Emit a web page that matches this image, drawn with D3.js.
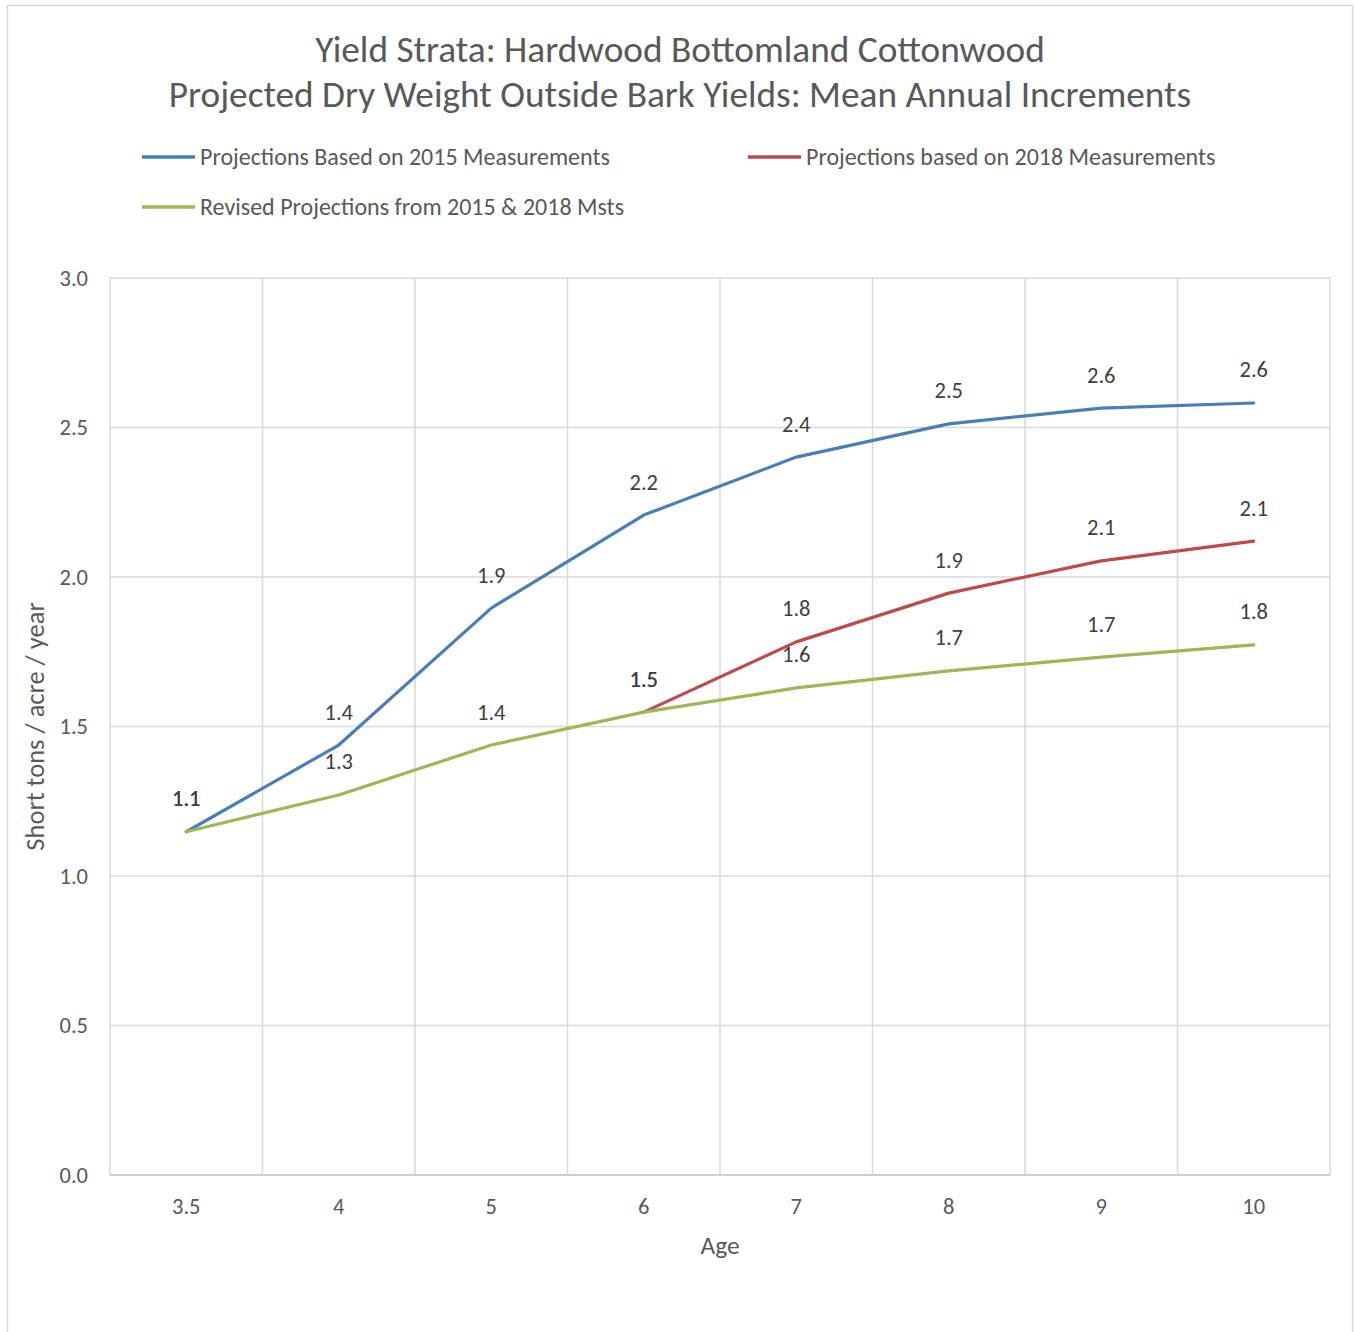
<!DOCTYPE html>
<html>
<head>
<meta charset="utf-8">
<script src="https://cdn.jsdelivr.net/npm/d3@7"></script>
<style>
  html, body { margin: 0; padding: 0; background: #fff; }
  svg { display: block; }
  text { font-family: Carlito, Calibri, Lato, "Open Sans", sans-serif; }
</style>
</head>
<body>
<svg id="chart" width="1354" height="1332"></svg>
<script>
// Stand ages (categorical x axis)
const ages = ["3.5", "4", "5", "6", "7", "8", "9", "10"];

// Mean annual increments, short tons / acre / year
const proj2015 = [1.148, 1.438, 1.896, 2.207, 2.401, 2.512, 2.565, 2.582];
const proj2018 = [null, null, null, 1.548, 1.783, 1.946, 2.054, 2.120];
const revised  = [1.148, 1.271, 1.438, 1.548, 1.629, 1.686, 1.732, 1.773];

const yTicks = [0, 0.5, 1.0, 1.5, 2.0, 2.5, 3.0];

const titleLines = [
  "Yield Strata: Hardwood Bottomland Cottonwood",
  "Projected Dry Weight Outside Bark Yields: Mean Annual Increments"
];

const seriesNames = [
  "Projections Based on 2015 Measurements",
  "Projections based on 2018 Measurements",
  "Revised Projections from 2015 & 2018 Msts"
];
const seriesColors = ["#4A7EBB", "#BE4B48", "#98B954"];
const seriesValues = [proj2015, proj2018, revised];

const FONT = "Carlito, Calibri, Lato, 'Open Sans', sans-serif";
const svg = d3.select("#chart");
const plot = { left: 110, right: 1330, top: 278, bottom: 1175 };

// Chart frame
svg.append("rect")
  .attr("x", 7.5).attr("y", 5.5)
  .attr("width", 1345).attr("height", 1340)
  .attr("fill", "#fff").attr("stroke", "#D9D9D9").attr("stroke-width", 1.5);

const x = d3.scaleBand().domain(ages).range([plot.left, plot.right]).padding(0);
const y = d3.scaleLinear().domain([0, 3]).range([plot.bottom, plot.top]);

// Horizontal gridlines
svg.append("g").selectAll("line").data(yTicks.filter(d => d > 0)).join("line")
  .attr("x1", plot.left).attr("x2", plot.right)
  .attr("y1", d => y(d)).attr("y2", d => y(d))
  .attr("stroke", "#D9D9D9").attr("stroke-width", 1.5);

// Vertical gridlines at category boundaries
const bounds = ages.map(a => x(a)).concat([plot.right]);
svg.append("g").selectAll("line").data(bounds).join("line")
  .attr("x1", d => d).attr("x2", d => d)
  .attr("y1", plot.top).attr("y2", plot.bottom)
  .attr("stroke", "#D9D9D9").attr("stroke-width", 1.5);

// Category axis line
svg.append("line")
  .attr("x1", plot.left).attr("x2", plot.right)
  .attr("y1", plot.bottom).attr("y2", plot.bottom)
  .attr("stroke", "#BFBFBF").attr("stroke-width", 1.5);

// Y tick labels
const yAxis = d3.axisLeft(y).tickValues(yTicks).tickFormat(d3.format(".1f")).tickSize(0).tickPadding(22);
const gy = svg.append("g").attr("transform", `translate(${plot.left},0)`).call(yAxis);
gy.select(".domain").remove();
gy.selectAll("text").attr("font-size", 22.5).attr("fill", "#595959").style("font-family", FONT);

// X tick labels
const xAxis = d3.axisBottom(x).tickSize(0).tickPadding(23);
const gx = svg.append("g").attr("transform", `translate(0,${plot.bottom})`).call(xAxis);
gx.select(".domain").remove();
gx.selectAll("text").attr("font-size", 22.5).attr("fill", "#595959").style("font-family", FONT);

// Axis titles
svg.append("text")
  .attr("x", (plot.left + plot.right) / 2).attr("y", 1245)
  .attr("text-anchor", "middle").attr("dominant-baseline", "central")
  .attr("font-size", 25.5).attr("fill", "#595959").text("Age");

svg.append("text")
  .attr("transform", `translate(35,${(plot.top + plot.bottom) / 2}) rotate(-90)`)
  .attr("text-anchor", "middle").attr("dominant-baseline", "central")
  .attr("font-size", 26.5).attr("fill", "#595959").text("Short tons / acre / year");

// Title
svg.append("g").selectAll("text").data(titleLines).join("text")
  .attr("x", 680).attr("y", (d, i) => 49 + i * 45)
  .attr("text-anchor", "middle").attr("dominant-baseline", "central")
  .attr("font-size", 37.3).attr("fill", "#595959").text(d => d);

// Legend
const legendItems = [
  { i: 0, x: 142, y: 157 },
  { i: 1, x: 748, y: 157 },
  { i: 2, x: 142, y: 207 }
];
const lg = svg.append("g").selectAll("g").data(legendItems).join("g");
lg.append("line")
  .attr("x1", d => d.x).attr("x2", d => d.x + 53)
  .attr("y1", d => d.y).attr("y2", d => d.y)
  .attr("stroke", d => seriesColors[d.i]).attr("stroke-width", 3.5);
lg.append("text")
  .attr("x", d => d.x + 58).attr("y", d => d.y - 1)
  .attr("dominant-baseline", "central")
  .attr("font-size", 24).attr("fill", "#595959")
  .text(d => seriesNames[d.i]);

// Series lines
const line = d3.line()
  .defined(d => d.v !== null)
  .x(d => x(d.age) + x.bandwidth() / 2)
  .y(d => y(d.v));

const series = seriesValues.map((vals, i) => ({
  i, pts: ages.map((age, k) => ({ age, v: vals[k] }))
}));

svg.append("g").selectAll("path").data(series).join("path")
  .attr("d", s => line(s.pts))
  .attr("fill", "none")
  .attr("stroke", s => seriesColors[s.i])
  .attr("stroke-width", 3.2)
  .attr("stroke-linejoin", "round")
  .attr("stroke-linecap", "round");

// Data labels above each point
const fmt = d3.format(".1f");
svg.append("g").selectAll("g").data(series).join("g")
  .selectAll("text").data(s => s.pts.filter(p => p.v !== null)).join("text")
  .attr("x", p => x(p.age) + x.bandwidth() / 2)
  .attr("y", p => y(p.v) - 33)
  .attr("text-anchor", "middle").attr("dominant-baseline", "central")
  .attr("font-size", 22.5).attr("fill", "#404040")
  .text(p => fmt(p.v));
</script>
</body>
</html>
